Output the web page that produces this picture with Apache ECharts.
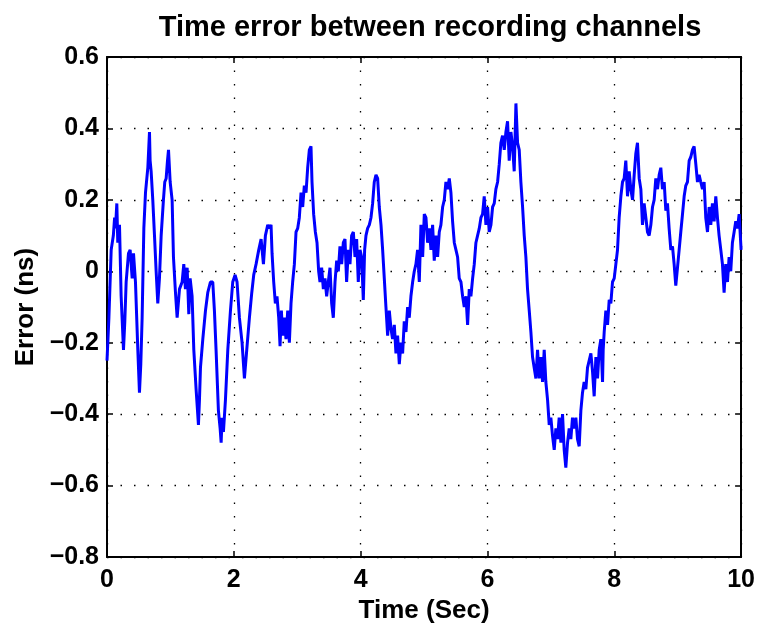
<!DOCTYPE html>
<html>
<head>
<meta charset="utf-8">
<title>Time error between recording channels</title>
<script src="https://cdn.jsdelivr.net/npm/echarts@6/dist/echarts.min.js"></script>
<style>
  html, body { margin: 0; padding: 0; background: #fff; }
  #chart { width: 758px; height: 635px; }
</style>
</head>
<body>
<div id="chart"></div>
<script>
// time (s) and error (ns)
var times = [
  0.00, 0.03, 0.066, 0.10, 0.12, 0.134, 0.155, 0.17, 0.197, 0.223, 0.26, 0.281, 0.302, 0.339, 0.365, 0.397, 0.418, 0.449, 0.486, 0.512,
  0.533, 0.554, 0.581, 0.607, 0.644, 0.67, 0.68, 0.696, 0.722, 0.749, 0.775, 0.801, 0.827, 0.854, 0.89, 0.911, 0.933, 0.954, 0.97, 0.996,
  1.027, 1.048, 1.08, 1.106, 1.143, 1.185, 1.211, 1.237, 1.264, 1.29, 1.311, 1.342, 1.369, 1.405, 1.442, 1.458, 1.474, 1.511, 1.553, 1.589,
  1.631, 1.668, 1.694, 1.72, 1.757, 1.784, 1.80, 1.815, 1.836, 1.868, 1.905, 1.947, 1.983, 2.02, 2.051, 2.088, 2.13, 2.167, 2.204, 2.246,
  2.283, 2.314, 2.351, 2.393, 2.43, 2.467, 2.498, 2.535, 2.561, 2.587, 2.603, 2.629, 2.655, 2.681, 2.708, 2.729, 2.75, 2.771, 2.797, 2.823,
  2.85, 2.876, 2.902, 2.928, 2.955, 2.981, 3.007, 3.033, 3.06, 3.086, 3.112, 3.139, 3.165, 3.191, 3.217, 3.233, 3.259, 3.286, 3.312, 3.338,
  3.359, 3.385, 3.412, 3.438, 3.464, 3.49, 3.517, 3.543, 3.569, 3.596, 3.622, 3.648, 3.674, 3.701, 3.727, 3.753, 3.779, 3.806, 3.832, 3.858,
  3.885, 3.911, 3.937, 3.963, 3.99, 4.016, 4.042, 4.063, 4.084, 4.11, 4.137, 4.163, 4.189, 4.215, 4.242, 4.268, 4.294, 4.321, 4.347, 4.373,
  4.399, 4.426, 4.452, 4.478, 4.504, 4.531, 4.557, 4.583, 4.61, 4.636, 4.662, 4.688, 4.715, 4.741, 4.767, 4.793, 4.82, 4.846, 4.872, 4.898,
  4.925, 4.951, 4.978, 5.004, 5.03, 5.056, 5.083, 5.109, 5.135, 5.161, 5.188, 5.214, 5.24, 5.266, 5.293, 5.319, 5.345, 5.372, 5.398, 5.424,
  5.45, 5.477, 5.503, 5.529, 5.555, 5.582, 5.608, 5.634, 5.661, 5.687, 5.713, 5.739, 5.766, 5.792, 5.818, 5.844, 5.871, 5.897, 5.923, 5.949,
  5.976, 6.002, 6.028, 6.055, 6.081, 6.107, 6.133, 6.16, 6.186, 6.212, 6.238, 6.265, 6.291, 6.317, 6.343, 6.37, 6.396, 6.422, 6.449, 6.475,
  6.501, 6.527, 6.554, 6.58, 6.606, 6.632, 6.659, 6.685, 6.711, 6.737, 6.764, 6.79, 6.816, 6.843, 6.869, 6.895, 6.921, 6.948, 6.974, 7.00,
  7.026, 7.053, 7.079, 7.105, 7.131, 7.158, 7.184, 7.21, 7.236, 7.263, 7.289, 7.315, 7.341, 7.368, 7.394, 7.42, 7.447, 7.473, 7.499, 7.525,
  7.552, 7.578, 7.605, 7.631, 7.657, 7.683, 7.71, 7.736, 7.762, 7.788, 7.815, 7.825, 7.841, 7.867, 7.894, 7.92, 7.946, 7.972, 7.999, 8.025,
  8.051, 8.077, 8.104, 8.13, 8.156, 8.182, 8.209, 8.235, 8.261, 8.288, 8.314, 8.34, 8.366, 8.393, 8.419, 8.445, 8.471, 8.498, 8.524, 8.55,
  8.577, 8.603, 8.629, 8.655, 8.682, 8.708, 8.734, 8.76, 8.787, 8.813, 8.839, 8.865, 8.892, 8.918, 8.944, 8.97, 8.997, 9.023, 9.049, 9.076,
  9.102, 9.128, 9.154, 9.181, 9.207, 9.233, 9.259, 9.286, 9.312, 9.338, 9.364, 9.391, 9.417, 9.443, 9.47, 9.496, 9.522, 9.548, 9.575, 9.601,
  9.627, 9.653, 9.68, 9.706, 9.732, 9.758, 9.785, 9.811, 9.837, 9.863, 9.89, 9.916, 9.942, 9.969, 10.0
];
var errors = [
  -0.25, -0.13, 0.06, 0.10, 0.15, 0.12, 0.19, 0.08, 0.13, -0.07, -0.22, -0.14, -0.03, 0.05, 0.06, -0.02, 0.05, -0.03, -0.22, -0.34,
  -0.26, -0.13, 0.12, 0.22, 0.29, 0.39, 0.31, 0.28, 0.20, 0.10, 0.00, -0.09, -0.02, 0.10, 0.20, 0.25, 0.26, 0.31, 0.34, 0.25,
  0.20, 0.04, -0.06, -0.13, -0.05, -0.03, 0.02, -0.05, 0.01, -0.12, -0.02, -0.07, -0.22, -0.33, -0.43, -0.36, -0.27, -0.19, -0.11, -0.06,
  -0.03, -0.03, -0.11, -0.22, -0.39, -0.44, -0.48, -0.41, -0.45, -0.36, -0.22, -0.11, -0.03, -0.01, -0.03, -0.13, -0.20, -0.30, -0.22, -0.13,
  -0.06, -0.01, 0.02, 0.06, 0.09, 0.02, 0.10, 0.13, 0.12, 0.13, 0.05, -0.03, -0.09, -0.07, -0.13, -0.21, -0.11, -0.18, -0.13, -0.19,
  -0.11, -0.20, -0.09, -0.03, 0.02, 0.11, 0.12, 0.15, 0.22, 0.18, 0.24, 0.22, 0.29, 0.34, 0.35, 0.25, 0.16, 0.11, 0.08, 0.00,
  -0.03, 0.01, -0.05, -0.02, -0.07, -0.03, 0.01, -0.09, -0.13, -0.03, 0.03, 0.00, 0.07, 0.02, 0.08, 0.09, -0.03, 0.06, 0.02, 0.10,
  0.11, 0.04, 0.09, -0.03, 0.06, 0.04, -0.08, 0.06, 0.10, 0.12, 0.13, 0.15, 0.19, 0.25, 0.27, 0.26, 0.18, 0.13, 0.06, -0.02,
  -0.10, -0.18, -0.11, -0.16, -0.19, -0.15, -0.23, -0.18, -0.26, -0.20, -0.23, -0.14, -0.17, -0.10, -0.13, -0.07, -0.03, 0.00, 0.02, 0.06,
  -0.03, 0.13, 0.04, 0.16, 0.15, 0.08, 0.12, 0.06, 0.13, 0.03, 0.10, 0.04, 0.11, 0.13, 0.18, 0.20, 0.25, 0.23, 0.26, 0.22,
  0.14, 0.08, 0.06, 0.04, -0.02, -0.03, -0.07, -0.10, -0.07, -0.15, -0.05, -0.07, -0.02, 0.02, 0.08, 0.10, 0.12, 0.15, 0.16, 0.21,
  0.13, 0.18, 0.11, 0.13, 0.18, 0.19, 0.23, 0.25, 0.30, 0.36, 0.38, 0.34, 0.39, 0.42, 0.31, 0.39, 0.35, 0.28, 0.47, 0.36,
  0.34, 0.25, 0.18, 0.10, 0.04, -0.05, -0.11, -0.17, -0.24, -0.27, -0.30, -0.22, -0.30, -0.24, -0.31, -0.22, -0.31, -0.36, -0.43, -0.41,
  -0.46, -0.50, -0.44, -0.47, -0.41, -0.48, -0.40, -0.50, -0.55, -0.48, -0.44, -0.47, -0.41, -0.44, -0.41, -0.47, -0.49, -0.39, -0.34, -0.31,
  -0.33, -0.27, -0.27, -0.23, -0.28, -0.35, -0.24, -0.30, -0.22, -0.19, -0.31, -0.22, -0.17, -0.11, -0.15, -0.08, -0.09, -0.03, -0.02, 0.02,
  0.06, 0.15, 0.21, 0.25, 0.26, 0.31, 0.21, 0.28, 0.23, 0.20, 0.27, 0.33, 0.36, 0.26, 0.23, 0.13, 0.19, 0.15, 0.11, 0.10,
  0.13, 0.18, 0.20, 0.26, 0.23, 0.27, 0.29, 0.23, 0.25, 0.17, 0.19, 0.12, 0.06, 0.07, 0.02, -0.04, 0.01, 0.06, 0.11, 0.16,
  0.21, 0.24, 0.25, 0.31, 0.32, 0.34, 0.35, 0.30, 0.25, 0.27, 0.25, 0.23, 0.25, 0.15, 0.11, 0.18, 0.13, 0.19, 0.14, 0.21,
  0.15, 0.10, 0.06, 0.02, -0.06, 0.02, -0.03, 0.04, 0.00, 0.08, 0.11, 0.14, 0.12, 0.16, 0.06
];
var xTicks = [0, 2, 4, 6, 8, 10];
var yTicks = [-0.8, -0.6, -0.4, -0.2, 0, 0.2, 0.4, 0.6];

var seriesData = times.map(function (t, i) { return [t, errors[i]] })

var font = 'Liberation Sans, Arial, Helvetica, sans-serif'
var gridDots = { show: true, lineStyle: { color: '#000', width: 1.3, type: [1.5, 12] } }

function fmtY(v) {
  if (Math.abs(v) < 1e-9) return '0'
  return v.toFixed(1).replace('-', '\u2212')
}

var chart = echarts.init(document.getElementById('chart'), null, { renderer: 'canvas' })
chart.setOption({
  animation: false,
  backgroundColor: '#fff',
  title: {
    text: 'Time error between recording channels',
    left: 425,
    textAlign: 'center',
    top: 8,
    textStyle: { fontFamily: font, fontWeight: 'bold', fontSize: 29, color: '#000' }
  },
  grid: { left: 107, right: 16, top: 57, bottom: 78 },
  xAxis: [{
    type: 'value',
    min: xTicks[0],
    max: xTicks[xTicks.length - 1],
    interval: 2,
    name: 'Time (Sec)',
    nameLocation: 'middle',
    nameGap: 41,
    nameTextStyle: { fontFamily: font, fontWeight: 'bold', fontSize: 26, color: '#000' },
    axisLine: { show: true, onZero: false, lineStyle: { color: '#000', width: 2 } },
    axisTick: { show: true, inside: true, length: 6, lineStyle: { color: '#000', width: 1.5 } },
    axisLabel: { margin: 11, fontFamily: font, fontWeight: 'bold', fontSize: 25, color: '#000' },
    splitLine: gridDots
  }, {
    type: 'value',
    position: 'top',
    min: xTicks[0],
    max: xTicks[xTicks.length - 1],
    interval: 2,
    axisLine: { show: true, onZero: false, lineStyle: { color: '#000', width: 2 } },
    axisTick: { show: true, inside: true, length: 6, lineStyle: { color: '#000', width: 1.5 } },
    axisLabel: { show: false },
    splitLine: { show: false }
  }],
  yAxis: [{
    type: 'value',
    min: yTicks[0],
    max: yTicks[yTicks.length - 1],
    interval: 0.2,
    name: 'Error (ns)',
    nameLocation: 'middle',
    nameGap: 68,
    nameTextStyle: { fontFamily: font, fontWeight: 'bold', fontSize: 26, color: '#000' },
    axisLine: { show: true, onZero: false, lineStyle: { color: '#000', width: 2 } },
    axisTick: { show: true, inside: true, length: 6, lineStyle: { color: '#000', width: 1.5 } },
    axisLabel: { margin: 8, fontFamily: font, fontWeight: 'bold', fontSize: 25, color: '#000', formatter: fmtY },
    splitLine: gridDots
  }, {
    type: 'value',
    position: 'right',
    min: yTicks[0],
    max: yTicks[yTicks.length - 1],
    interval: 0.2,
    axisLine: { show: true, onZero: false, lineStyle: { color: '#000', width: 2 } },
    axisTick: { show: true, inside: true, length: 6, lineStyle: { color: '#000', width: 1.5 } },
    axisLabel: { show: false },
    splitLine: { show: false }
  }],
  series: [{
    type: 'line',
    xAxisIndex: 0,
    yAxisIndex: 0,
    data: seriesData,
    showSymbol: false,
    lineStyle: { color: '#0000ff', width: 3 },
    itemStyle: { color: '#0000ff' }
  }]
})
</script>
</body>
</html>
